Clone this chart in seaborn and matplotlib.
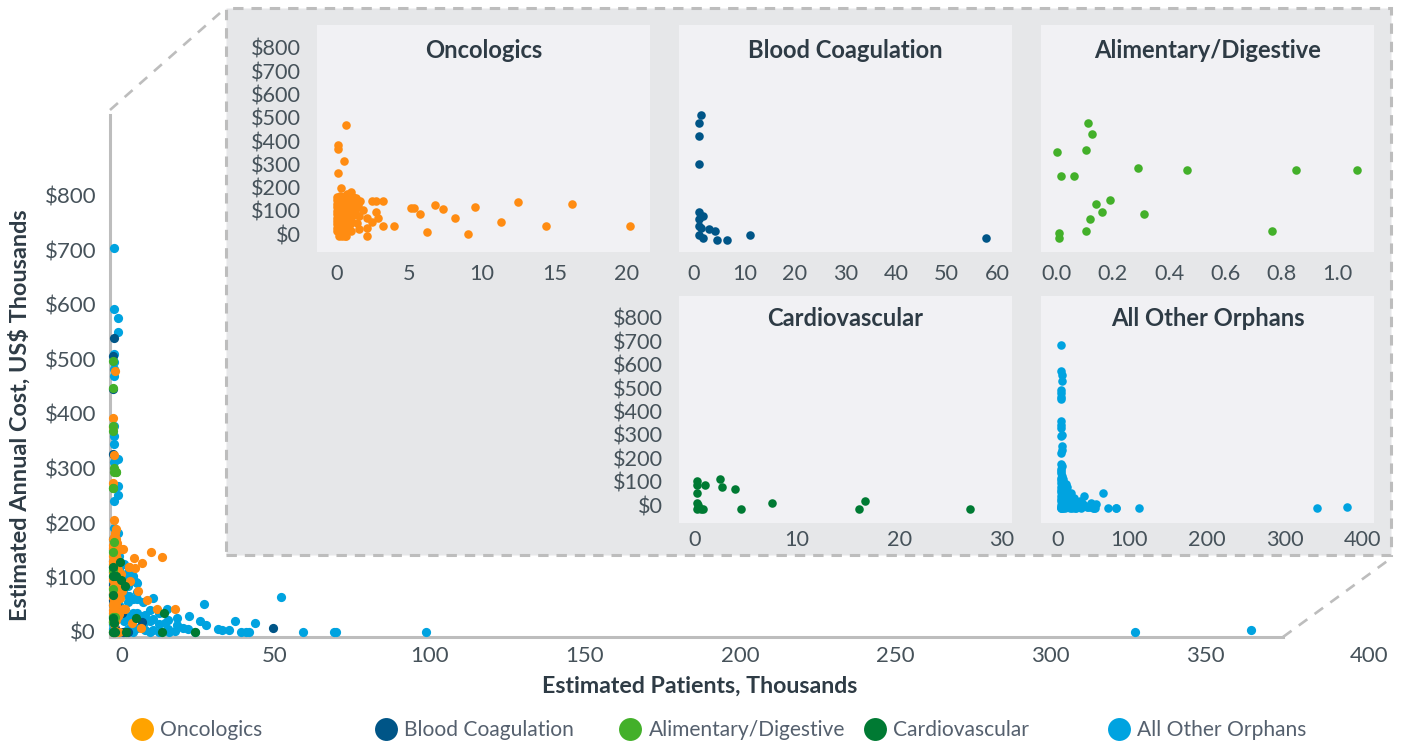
import numpy as np
import pandas as pd
import matplotlib
matplotlib.use("Agg")
import matplotlib.pyplot as plt
from matplotlib.lines import Line2D
from matplotlib.patches import Rectangle
import seaborn as sns

W, H = 1404, 745

onc_x = [.6,.05,.05,.45,.05,.25,.95,.7,1.29,1.45,1.8,1.22,2.7,2.03,2.83,2.38,1.34,2.03,2.03,.95,3.14,3.94,2.38,2.65,3.14,
         5.1,5.3,5.7,6.75,7.3,8.1,9.5,12.5,16.2,20.2,14.4,11.3,9.05,6.2,
         0,0,0,0,0,0,0,0,0,0,0,.1,.1,.1,.1,.1,.1,.2,.2,.2,.2,.2,.2,.3,.3,.3,.3,.3,.4,.4,.4,.4,.5,.5,.5,.5,.6,.6,.6,.7,.7,.7,.8,.8,.9,.9,1.0,1.0,1.1,1.1,1.3,1.1,.9,
         1.5,1.5,1.6]
onc_y = [479,392,377,325,274,206,189,182,163,134,113,106,106,76,76,62,58,33,0,22,43,43,153,153,153,
         120,120,94,136,118,76,127,146,137,42,42,59,7,16,
         170,155,140,125,110,95,80,65,50,35,20,160,130,100,70,40,0,175,145,115,85,55,25,0,165,130,75,40,150,105,60,15,0,175,120,85,140,45,0,160,100,65,130,30,150,85,115,60,170,140,120,90,50,
         85,30,150]

coag_x = [.37,0,0,0,0,.8,0,0,.3,1.83,2.9,0,.8,3.2,5.06,9.4,52.5]
coag_y = [540,506,446,327,120,102,87,58,51,44,35,18,8,0,0,18,7]

alim_x = [.113,.127,.106,0,.288,.465,.852,1.07,.014,.063,.189,.141,.161,.31,.12,.106,.767,.007,.007]
alim_y = [498,447,378,369,300,293,293,293,265,265,165,147,113,104,79,27,27,19,0]

card_x = [.1,.1,.85,2.4,2.6,3.8,.1,.1,.2,.1,.45,.65,4.4,7.5,16.6,16,26.9]
card_y = [120,102,102,128,95,85,68,26,17,0,0,0,0,26,35,0,0]

other_x = [.3,.3,1.5,1.5,.3,.3,.3,.3,.3,.3,.3,.3,1.8,1.5,1.5,.3,.3,1.8,
           6.7,7.5,5.3,7.8,13.2,17.6,10.5,13.2,6.7,17,20.9,28.5,30.5,24.7,34.4,13.2,10.5,18.5,20.3,
           43.6,44.6,46.6,35.7,30,62.3,72.5,73,102.6,55,335,373,
           0,0,0,0,0,0,0,0,0,0,0,.8,.8,.8,.8,.8,2,2,2,2,2,2,2,3.5,3.5,3.5,3.5,3.5,3.5,5,5,5,5,5,6.5,6.5,6.5,6.5,
           8,8,8,8,10,10,10,12,12,12,15,15,15,18,18,21,23,25,27,38,40,42]
other_y = [704,593,576,551,511,496,482,470,378,359,345,312,317,268,251,240,190,182,
           102,92,66,74,63,42,31,23,34,16,12,20,12,5,5,3,3,0,1,
           0,0,17,3,52,0,0,0,0,65,0,4,
           170,150,130,110,90,70,50,30,15,0,5,160,120,80,40,0,140,115,95,75,50,25,0,125,100,70,40,20,0,110,85,55,30,5,95,60,30,0,
           90,60,35,8,55,30,15,40,20,0,35,15,0,22,5,25,8,30,0,3,20,0]

titles = ["Oncologics", "Blood Coagulation", "Alimentary/Digestive", "Cardiovascular", "All Other Orphans"]
xlabel = "Estimated Patients, Thousands"
ylabel = "Estimated Annual Cost, US$ Thousands"
y_tick_labels = ["$0", "$100", "$200", "$300", "$400", "$500", "$600", "$700", "$800"]
main_x_labels = ["0", "50", "100", "150", "200", "250", "300", "350", "400"]
panel_x_labels = [["0", "5", "10", "15", "20"],
                  ["0", "10", "20", "30", "40", "50", "60"],
                  ["0.0", "0.2", "0.4", "0.6", "0.8", "1.0"],
                  ["0", "10", "20", "30"],
                  ["0", "100", "200", "300", "400"]]

colors = ["#FF8C12", "#005587", "#43B02A", "#007A33", "#00A3E0"]
legend_colors = ["#FFA300", "#005587", "#43B02A", "#007A33", "#00A3E0"]
series_x = [onc_x, coag_x, alim_x, card_x, other_x]
series_y = [onc_y, coag_y, alim_y, card_y, other_y]

sns.set_theme(style="white")
plt.rcParams["font.family"] = ["Lato", "DejaVu Sans"]
TICK = "#46525A"
DARK = "#2E3B45"
GREY = "#BDBDBD"
BG = "#E6E7E9"
PANEL = "#F1F1F4"
TICK_FS = 16
TICK_W = "normal"
HEAD_W = "bold"
MS = 38

fig = plt.figure(figsize=(W / 100, H / 100), dpi=100, facecolor="white")


def rect(L, T, R, B):
    return [L / W, 1 - B / H, (R - L) / W, (B - T) / H]


def make_frame():
    rows = []
    for name, xs, ys in zip(titles, series_x, series_y):
        rows.append(pd.DataFrame({"x": xs, "y": ys, "group": name}))
    return pd.concat(rows, ignore_index=True)


def style_ticks(a, xpad, ypad, size):
    a.tick_params(axis="x", length=0, pad=xpad, labelsize=size, labelcolor=TICK)
    a.tick_params(axis="y", length=0, pad=ypad, labelsize=size, labelcolor=TICK)
    for t in a.get_xticklabels() + a.get_yticklabels():
        t.set_fontweight(TICK_W)


df = make_frame()

# main axes
mL, mT, mR, mB = 110, 115, 1385, 637
mx0, msx, my0, msy = 113, 3.05, 632, 0.545
ax = fig.add_axes(rect(mL, mT, mR, mB), facecolor="none", zorder=1)
order = [4, 1, 0, 2, 3]
for i in order:
    sns.scatterplot(data=df[df.group == titles[i]], x="x", y="y", color=colors[i], s=MS + 6,
                    linewidth=0, ax=ax, legend=False, clip_on=False, zorder=3 + order.index(i))
ax.set_xlim((mL - mx0) / msx, (mR - mx0) / msx)
ax.set_ylim((my0 - mB) / msy, (my0 - mT) / msy)
mtick_px = np.array([122, 275, 430, 585, 740, 895, 1050, 1205, 1369])
ax.set_xticks((mtick_px - mx0) / msx, main_x_labels)
ax.set_yticks([int(t[1:]) for t in y_tick_labels], y_tick_labels)
style_ticks(ax, 6.5, 10, TICK_FS)
for s in ["top", "right"]:
    ax.spines[s].set_visible(False)
for s in ["left", "bottom"]:
    ax.spines[s].set_color(GREY)
    ax.spines[s].set_linewidth(2.2)
ax.spines["bottom"].set_bounds((mL - mx0) / msx, (1283 - mx0) / msx)
ax.set_xlabel(xlabel, fontsize=16.7, fontweight=HEAD_W, color=DARK)
ax.set_ylabel(ylabel, fontsize=16.9, fontweight=HEAD_W, color=DARK)
ax.xaxis.set_label_coords((700 - mL) / (mR - mL), (mB - 686) / (mB - mT), transform=ax.transAxes)
ax.xaxis.label.set_va("center")
ax.yaxis.set_label_coords((20 - mL) / (mR - mL), (mB - 415) / (mB - mT), transform=ax.transAxes)
ax.yaxis.label.set_va("center")

# dashed inset frame and connectors
fig.add_artist(Rectangle((226 / W, 1 - 555 / H), (1391 - 226) / W, (555 - 8) / H, transform=fig.transFigure,
                         facecolor=BG, edgecolor=GREY, linewidth=2.2, linestyle=(0, (3.4, 2.6)), zorder=0.5))
for (x1, y1, x2, y2) in [(110, 110, 220, 13), (1283, 637, 1390, 559)]:
    fig.add_artist(Line2D([x1 / W, x2 / W], [1 - y1 / H, 1 - y2 / H], transform=fig.transFigure,
                          color=GREY, linewidth=1.9, linestyle=(0, (4, 3.4)), zorder=0.5))

# panels: box, x origin, x scale, y origin, label positions
panels = [
    dict(box=(317, 25, 650, 252), x0=337.3, sx=14.47, y0=236.0, xt=np.linspace(337, 627, 5), yt=(234.3, 47.7), ty=51, pad=8.6),
    dict(box=(679, 25, 1012, 252), x0=699.0, sx=5.47, y0=239.5, xt=np.linspace(694, 997, 7), yt=None, ty=51, pad=8.6),
    dict(box=(1041, 25, 1374, 252), x0=1056.7, sx=281.0, y0=237.7, xt=np.linspace(1056.7, 1337.7, 6), yt=None, ty=51, pad=8.6),
    dict(box=(679, 296, 1012, 523), x0=696.0, sx=10.17, y0=509.0, xt=np.linspace(694.7, 1001.7, 4), yt=(505, 318), ty=319, pad=5),
    dict(box=(1041, 296, 1374, 523), x0=1060.5, sx=0.767, y0=508.0, xt=np.array([1058, 1129, 1207, 1285, 1363]), yt=None, ty=319, pad=5),
]
sy = 0.231
for i, p in enumerate(panels):
    L, T, R, B = p["box"]
    a = fig.add_axes(rect(L, T, R, B), facecolor=PANEL, zorder=2)
    sns.scatterplot(data=df[df.group == titles[i]], x="x", y="y", color=colors[i], s=MS,
                    linewidth=0, ax=a, legend=False, clip_on=False, zorder=3)
    a.set_xlim((L - p["x0"]) / p["sx"], (R - p["x0"]) / p["sx"])
    a.set_ylim((p["y0"] - B) / sy, (p["y0"] - T) / sy)
    a.set_xticks((p["xt"] - p["x0"]) / p["sx"], panel_x_labels[i])
    if p["yt"]:
        ypx = np.linspace(p["yt"][0], p["yt"][1], len(y_tick_labels))
        a.set_yticks((p["y0"] - ypx) / sy, y_tick_labels)
    else:
        a.set_yticks([])
    style_ticks(a, p["pad"], 11.5, TICK_FS - 0.4)
    for s in a.spines.values():
        s.set_visible(False)
    a.set_xlabel("")
    a.set_ylabel("")
    a.set_title(titles[i], y=(B - p["ty"]) / (B - T), pad=0, va="center", fontsize=17.1, fontweight=HEAD_W, color=DARK)

# legend entries
legend_px = [143, 387, 631, 876, 1120]
for name, col, px in zip(titles, legend_colors, legend_px):
    h = Line2D([], [], marker="o", linestyle="none", markerfacecolor=col, markeredgewidth=0, markersize=16.5)
    leg = fig.legend(handles=[h], labels=[name], loc="center left", bbox_to_anchor=((px - 11.5) / W, 1 - 730 / H),
                     frameon=False, handletextpad=0.38, handlelength=1.0, borderpad=0, borderaxespad=0,
                     prop={"size": 15.1}, labelcolor="#55606E")

fig.savefig("out.png", dpi=100, facecolor="white")
